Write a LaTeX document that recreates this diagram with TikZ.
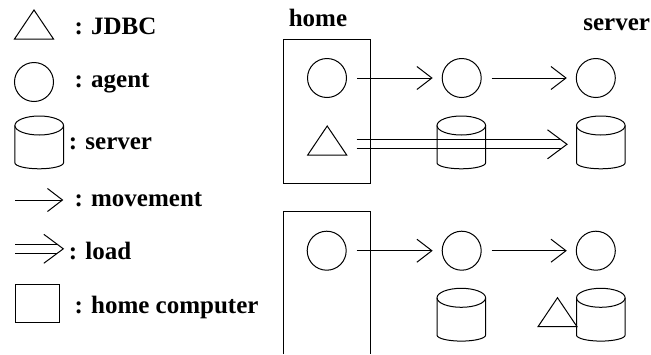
\documentclass[tikz,border=0pt]{standalone}
\usepackage{fontspec}
\setmainfont{Liberation Serif}
\usetikzlibrary{arrows.meta,calc}
\newcommand\loadarr[2]{%
  \draw ($(#1)+(0,-4.5)$) -- ($(#2)+(-6,-4.5)$);
  \draw ($(#1)+(0,4.5)$) -- ($(#2)+(-6,4.5)$);
  \draw ($(#2)+(-19.5,-14.5)$) -- (#2) -- ($(#2)+(-19.5,14.5)$);}
\tikzset{
  agent/.style={circle,draw,minimum size=39pt,inner sep=0pt},
  mv/.style={-{Straight Barb[length=15pt,width=23pt]}},
  lbl/.style={inner sep=0pt,anchor=base west,font=\fontsize{25}{30}\selectfont\bfseries},
  cyl/.pic={
    \draw (0,0) ellipse [x radius=24.3, y radius=9.5];
    \draw (-24.3,0) -- (-24.3,37.3) .. controls (-24.3,40.6) and (-13.4,43.3) .. (0,43.3)
          .. controls (13.4,43.3) and (24.3,40.6) .. (24.3,37.3) -- (24.3,0);
    \node[inner sep=0pt,minimum width=48.6pt,minimum height=53pt,anchor=north] (-n) at (0,-9.5) {};
  },
  jdbc/.pic={
    \draw (-19.5,0) -- (19.5,0) -- (0,-29) -- cycle;
    \node[inner sep=0pt,minimum width=39pt,minimum height=29pt,anchor=south] (-n) at (0,0) {};
  }
}
\begin{document}
\begin{tikzpicture}[x=1pt,y=-1pt,line width=1pt]
\useasboundingbox (0,0) rectangle (651,354);
% legend
\pic (lt) at (34,39) {jdbc};
\node[lbl] (ltx) at (74,34.5) {: JDBC};
\node[agent] (la) at (34,82) {};
\node[lbl] (lax) at (74,87.3) {: agent};
\pic (ls) at (39.2,125.5) {cyl};
\node[lbl] (lsx) at (68.3,149) {: server};
\coordinate (lm1) at (15,200);
\coordinate (lm2) at (63.3,200);
\draw[mv] (lm1) -- (lm2);
\node[lbl] (lmx) at (74,206.7) {: movement};
\coordinate (ll1) at (15,248.8);
\coordinate (ll2) at (63.3,248.8);
\loadarr{ll1}{ll2}
\node[lbl] (llx) at (68.3,259.3) {: load};
\node[draw,inner sep=0pt,minimum width=44.3pt,minimum height=38.7pt] (lh) at (37.15,303.35) {};
\node[lbl] (lhx) at (74,313.3) {: home computer};
% headings
\node[lbl] (home) at (288.3,26) {home};
\node[lbl,anchor=base east] (server) at (650.5,30) {server};
% top scenario
\node[draw,inner sep=0pt,minimum width=86.5pt,minimum height=143.5pt] (h1) at (326.75,111.25) {};
\node[agent] (a1) at (327,78) {};
\node[agent] (a2) at (461.7,78) {};
\node[agent] (a3) at (595.8,78) {};
\draw[mv,shorten <=10pt,shorten >=9pt] (a1) -- (a2);
\draw[mv,shorten <=10pt,shorten >=9pt] (a2) -- (a3);
\pic (t1) at (327.2,155) {jdbc};
\pic (s1) at (461.3,125.5) {cyl};
\pic (s2) at (600.8,125.5) {cyl};
\coordinate (d1) at ($(t1-n.east)+(9.3,4.3)$);
\coordinate (d2) at ($(s2-n.west |- d1)+(-9,0)$);
\loadarr{d1}{d2}
% bottom scenario
\coordinate (h2a) at (283.5,354);
\coordinate (h2b) at (370,354);
\draw (h2a) -- (283.5,211.7) -- (370,211.7) -- (h2b);
\node[agent] (b1) at (326.7,250.7) {};
\node[agent] (b2) at (461.7,250.7) {};
\node[agent] (b3) at (595.8,250.7) {};
\draw[mv,shorten <=10pt,shorten >=9pt] (b1) -- (b2);
\draw[mv,shorten <=10pt,shorten >=9pt] (b2) -- (b3);
\pic (s3) at (461.3,297.8) {cyl};
\pic (s4) at (600.8,297.8) {cyl};
\pic (t2) at (557.5,326.7) {jdbc};
\end{tikzpicture}
\end{document}
